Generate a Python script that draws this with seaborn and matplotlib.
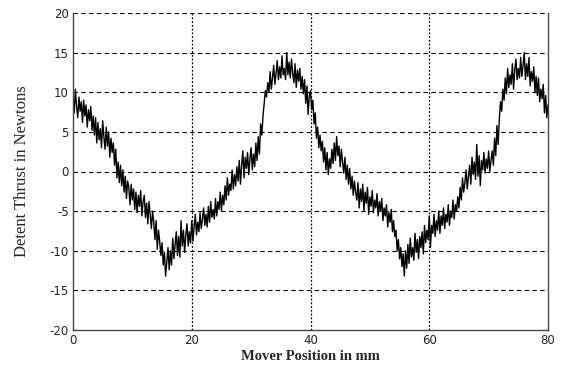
import numpy as np
import pandas as pd
import matplotlib
matplotlib.use("Agg")
import matplotlib.pyplot as plt
import seaborn as sns

# Mover position step (mm) and read-off detent thrust values (N), 0.2 mm apart
position_step_mm = 0.2
thrust_newtons = [
    9.6, 7.4, 10.4, 8.2, 6.8, 9.4, 7.6, 8.8, 6.2, 9.0, 7.0, 8.4, 5.6, 7.8, 6.4, 8.2, 5.2, 7.0, 4.6, 6.8,
    3.6, 6.2, 4.0, 5.4, 3.0, 6.4, 4.4, 2.8, 5.6, 3.2, 5.0, 1.8, 4.2, 2.4, 3.6, 0.8, 2.8, -0.8, 1.2, -1.4,
    0.8, -1.8, 0.2, -2.6, -0.6, -3.4, -1.2, -2.0, -4.2, -1.6, -3.6, -2.2, -4.8, -2.6, -5.2, -3.0, -4.4, -2.4, -5.6, -3.8,
    -3.0, -5.8, -4.0, -6.6, -3.8, -5.4, -7.2, -5.0, -6.4, -8.6, -6.2, -9.8, -7.4, -8.8, -10.6, -9.0, -11.8, -10.2, -13.2, -11.4,
    -9.6, -12.4, -10.0, -11.8, -8.4, -11.0, -9.2, -7.6, -10.6, -8.2, -10.8, -6.2, -9.4, -7.4, -10.2, -8.0, -6.6, -9.4, -7.6, -9.0,
    -6.2, -8.8, -7.0, -5.4, -8.0, -6.4, -7.6, -5.2, -7.2, -6.0, -4.6, -6.8, -5.4, -7.0, -4.4, -6.4, -3.8, -5.8, -4.8, -6.0,
    -3.4, -5.6, -3.8, -4.8, -2.6, -5.0, -3.0, -4.2, -1.8, -3.6, -0.8, -3.0, -1.6, -2.4, 0.2, -2.2, -0.4, -1.8, 0.6, -1.2,
    1.4, -1.6, 0.8, 2.6, -0.8, 1.8, 0.4, 2.4, -0.4, 1.6, 3.0, 0.2, 2.2, 0.6, 3.6, 1.4, 4.4, 2.2, 6.0, 4.6,
    7.0, 8.6, 10.2, 9.4, 11.2, 10.0, 12.6, 10.4, 11.8, 13.4, 11.0, 12.4, 14.0, 11.6, 13.2, 11.8, 14.6, 12.2, 13.0, 11.6,
    15.0, 12.2, 13.8, 11.8, 14.2, 12.4, 11.2, 13.6, 10.6, 12.8, 11.4, 13.0, 10.4, 12.0, 9.8, 11.6, 8.6, 10.8, 7.2, 9.6,
    10.2, 7.8, 9.0, 6.0, 7.4, 4.2, 5.6, 3.0, 4.6, 2.6, 3.8, 1.2, 3.0, 0.2, 2.4, -0.4, 1.6, 0.4, 2.8, 1.0,
    3.6, 1.4, 4.4, 2.0, 3.2, 0.6, 2.8, 1.2, -0.2, 1.8, -1.0, 0.8, -1.6, 0.4, -2.2, -0.6, -3.0, -1.2, -2.6, -3.6,
    -1.4, -4.6, -2.2, -3.8, -1.6, -5.0, -2.6, -4.0, -2.0, -5.4, -3.2, -4.4, -2.4, -5.2, -3.6, -4.6, -2.8, -5.6, -3.8, -5.0,
    -3.4, -6.2, -4.6, -5.6, -4.2, -7.0, -5.2, -6.4, -4.8, -7.6, -6.2, -8.2, -7.4, -10.0, -8.6, -11.0, -9.6, -12.0, -10.4, -13.2,
    -10.0, -12.2, -9.2, -11.6, -8.4, -10.8, -9.6, -11.2, -7.8, -10.2, -8.6, -11.0, -8.2, -9.6, -7.6, -10.4, -6.8, -9.0, -7.4, -8.6,
    -5.6, -9.6, -6.8, -7.8, -5.4, -8.2, -6.2, -7.4, -5.0, -7.8, -5.6, -6.8, -4.6, -7.2, -5.4, -6.4, -4.2, -6.8, -5.0, -5.8,
    -3.6, -6.0, -4.2, -5.0, -3.2, -4.6, -2.0, -3.6, -0.8, -2.6, -1.4, 0.2, -2.2, -0.6, 0.8, -1.6, 1.8, -0.4, 1.2, -1.0,
    3.4, -0.6, 2.0, -1.8, 1.4, 0.2, 2.4, -0.2, 1.6, 0.4, 2.6, 0.0, 1.4, 2.6, 0.8, 4.2, 2.0, 5.8, 3.4, 6.6,
    8.8, 7.6, 10.4, 9.0, 11.8, 9.8, 13.0, 10.6, 12.2, 11.0, 13.6, 10.4, 12.8, 14.2, 11.6, 13.0, 11.8, 14.4, 12.0, 13.4,
    15.0, 11.6, 13.6, 12.0, 14.4, 10.8, 12.6, 11.4, 13.2, 10.0, 12.0, 9.6, 11.8, 8.8, 10.4, 9.2, 11.0, 7.4, 9.6, 6.8,
    8.4,
]
x_ticks = [0, 20, 40, 60, 80]
y_ticks = [-20, -15, -10, -5, 0, 5, 10, 15, 20]
x_label = "Mover Position in mm"
y_label = "Detent Thrust in Newtons"

positions = [round(i * position_step_mm, 2) for i in range(len(thrust_newtons))]
df = pd.DataFrame({"pos": positions, "thrust": thrust_newtons})

sns.set_theme(style="white")
plt.rcParams["font.family"] = ["DejaVu Sans"]

fig = plt.figure(figsize=(5.64, 3.75), dpi=100)
ax = fig.add_axes([73 / 564, 1 - 330 / 375, (548 - 73) / 564, (330 - 13) / 375])

sns.lineplot(data=df, x="pos", y="thrust", color="black", linewidth=1.0, ax=ax)

ax.set_xlim(0, 80)
ax.set_ylim(-20, 20)
ax.set_xticks(x_ticks)
ax.set_yticks(y_ticks)
ax.set_xticklabels([str(v) for v in x_ticks], fontsize=8.5, color="#222222")
ax.set_yticklabels([str(v) for v in y_ticks], fontsize=8.5, color="#222222")
ax.tick_params(axis="both", length=0, pad=3)

for y in y_ticks[1:]:
    ax.axhline(y, color="black", linewidth=0.8, linestyle=(0, (4, 3)), zorder=0)
for x in x_ticks[1:-1]:
    ax.axvline(x, color="black", linewidth=0.9, linestyle=(0, (1.5, 1.5)), zorder=0)

for side in ["left", "bottom", "right"]:
    ax.spines[side].set_visible(True)
    ax.spines[side].set_color("#444444")
    ax.spines[side].set_linewidth(1.0)
ax.spines["top"].set_visible(False)

ax.set_xlabel(x_label, family=["Liberation Serif"], fontsize=10.5, fontweight="bold", labelpad=2)
ax.set_ylabel(y_label, family=["Liberation Serif"], fontsize=12, labelpad=14)

fig.savefig("out.png", dpi=100)
